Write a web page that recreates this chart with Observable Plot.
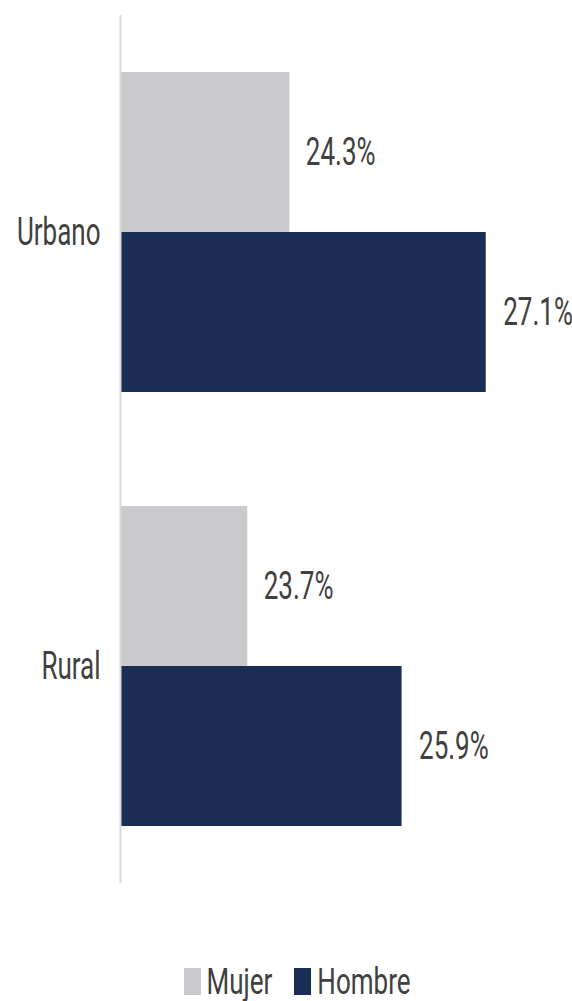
<!DOCTYPE html>
<html>
<head>
<meta charset="utf-8">
<script src="https://cdn.jsdelivr.net/npm/d3@7"></script>
<script src="https://cdn.jsdelivr.net/npm/@observablehq/plot@0.6"></script>
<style>
  html, body { margin: 0; padding: 0; background: #fff; }
  body { width: 572px; height: 1001px; overflow: hidden; font-family: "Roboto", "Liberation Sans", sans-serif; }
  #legend { display: flex; justify-content: center; align-items: center; gap: 22px; margin-top: 66px; margin-left: 22px; font-size: 26px; color: #404040; }
  #legend .item { display: flex; align-items: center; gap: 6px; }
  #legend .sw { display: inline-block; width: 17px; height: 27px; }
  #legend .lbl { display: inline-block; transform: scaleY(1.45); transform-origin: center; }
</style>
</head>
<body>
<div id="chart"></div>
<div id="legend"></div>
<script>
const regions = ["Urbano", "Rural"];
const series = ["Mujer", "Hombre"];
const mujer = [24.3, 23.7];
const hombre = [27.1, 25.9];
const colors = ["#cacace", "#1b2d54"];
const xMin = 21.9;
const xMax = 28.33;

const mujerData = regions.map((r, i) => ({region: r, sex: "Mujer", value: mujer[i]}));
const hombreData = regions.map((r, i) => ({region: r, sex: "Hombre", value: hombre[i]}));
const fmt = d => d.value.toFixed(1) + "%";
const font = '"Roboto", "Liberation Sans", sans-serif';

const chart = Plot.plot({
  width: 572,
  height: 900,
  marginLeft: 121,
  marginRight: 0,
  marginTop: 15,
  marginBottom: 17,
  style: {fontFamily: font, color: "#404040", background: "#fff"},
  x: {domain: [xMin, xMax], axis: null},
  y: {domain: regions, paddingInner: 0.263, paddingOuter: 0.131, label: null},
  marks: [
    Plot.barX(mujerData, {y: "region", x1: () => xMin, x2: "value", fill: colors[0], insetBottom: 160}),
    Plot.barX(hombreData, {y: "region", x1: () => xMin, x2: "value", fill: colors[1], insetTop: 160}),
    Plot.text(mujerData, {y: "region", x: "value", text: fmt, dx: 16, dy: -80, textAnchor: "start", fontSize: 26, fill: "#404040"}),
    Plot.text(hombreData, {y: "region", x: "value", text: fmt, dx: 17, dy: 80, textAnchor: "start", fontSize: 26, fill: "#404040"}),
    Plot.ruleX([xMin], {stroke: "#d9d9d9", strokeWidth: 2, dx: -1}),
    Plot.axisY({tickSize: 0, tickPadding: 21, fontSize: 26, label: null, fill: "#404040"})
  ]
});
document.getElementById("chart").appendChild(chart);

// stretch text vertically around its own centre (the reference's lettering is tall and narrow)
const stretch = 1.5;
chart.querySelectorAll("text").forEach(t => {
  const b = t.getBBox();
  const cy = b.y + b.height / 2;
  const prev = t.getAttribute("transform") || "";
  t.setAttribute("transform", `${prev} translate(0,${cy}) scale(1,${stretch}) translate(0,${-cy})`.trim());
});

const legend = document.getElementById("legend");
series.forEach((s, i) => {
  const item = document.createElement("span");
  item.className = "item";
  const sw = document.createElement("span");
  sw.className = "sw";
  sw.style.background = colors[i];
  const t = document.createElement("span");
  t.className = "lbl";
  t.textContent = s;
  item.appendChild(sw);
  item.appendChild(t);
  legend.appendChild(item);
});
</script>
</body>
</html>
